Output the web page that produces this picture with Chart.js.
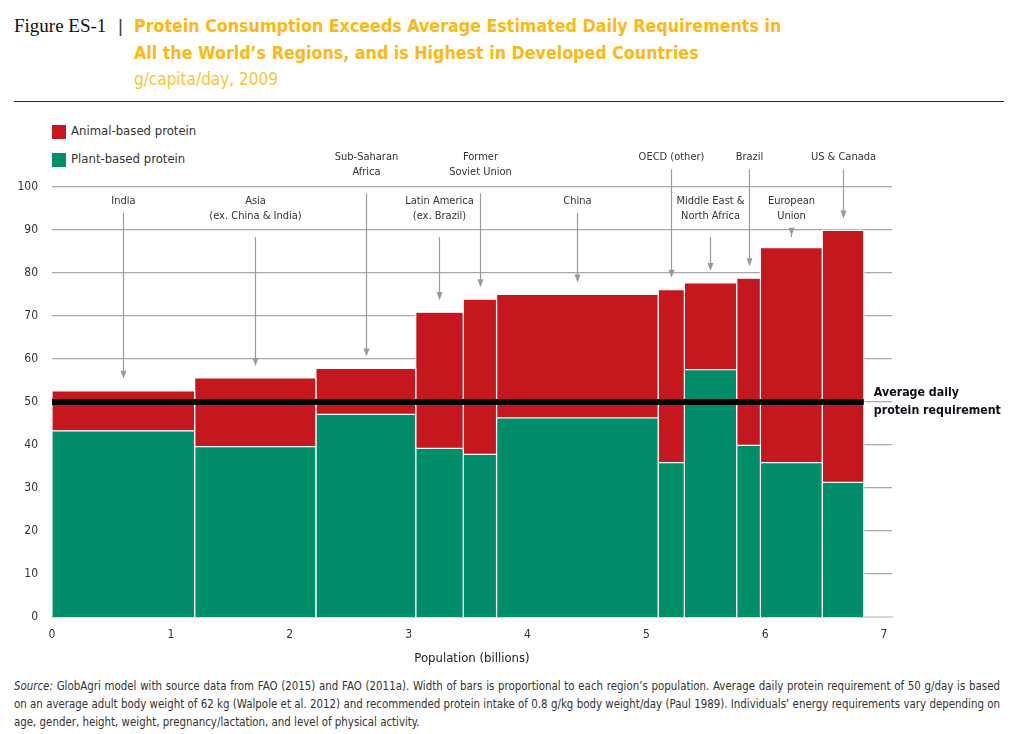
<!DOCTYPE html>
<html>
<head>
<meta charset="utf-8">
<script src="https://cdn.jsdelivr.net/npm/chart.js@4.4.1/dist/chart.umd.min.js"></script>
<style>
  body { margin: 0; background: #fff; width: 1011px; height: 734px; position: relative; overflow: hidden;
         font-family: "DejaVu Sans Condensed", "Liberation Sans Narrow", Roboto, sans-serif; color: #333; }
  .abs { position: absolute; white-space: nowrap; }
  #fig { left: 14px; top: 12px; font-family: "Liberation Serif", "DejaVu Serif", serif; font-size: 19px; line-height: 27px; color: #111; }
  #bar { left: 118px; top: 12px; font-family: "Liberation Sans", sans-serif; font-size: 19px; line-height: 27px; color: #444; }
  #title { left: 134px; top: 13px; font-size: 17.7px; line-height: 27px; font-weight: bold; color: #FDB913; }
  #sub { left: 134px; top: 68px; font-size: 17px; line-height: 22px; color: #FDC436; }
  #rule { left: 14px; top: 101px; width: 990px; height: 1px; background: #222; }
  .sw { position: absolute; left: 52px; width: 14px; height: 14px; }
  .lg { left: 71px; font-size: 13px; line-height: 18px; color: #333; }
  #wrap { position: absolute; left: 0; top: 110px; width: 1011px; height: 560px; }
  #source { position: absolute; left: 14px; top: 677px; width: 986px; font-size: 11.4px; line-height: 18px;
            text-align: justify; color: #333; }
</style>
</head>
<body>
<div class="abs" id="fig">Figure ES-1</div>
<div class="abs" id="bar">|</div>
<div class="abs" id="title">Protein Consumption Exceeds Average Estimated Daily Requirements in<br>All the World’s Regions, and is Highest in Developed Countries</div>
<div class="abs" id="sub">g/capita/day, 2009</div>
<div class="abs" id="rule"></div>

<div class="sw" style="top:125px;background:#C5171E"></div>
<div class="abs lg" style="top:122px">Animal-based protein</div>
<div class="sw" style="top:153px;background:#008D6A"></div>
<div class="abs lg" style="top:150px">Plant-based protein</div>

<div id="wrap"><canvas id="myChart"></canvas></div>

<div id="source"><i>Source:</i> GlobAgri model with source data from FAO (2015) and FAO (2011a). Width of bars is proportional to each region’s population. Average daily protein requirement of 50 g/day is based on an average adult body weight of 62 kg (Walpole et al. 2012) and recommended protein intake of 0.8 g/kg body weight/day (Paul 1989). Individuals’ energy requirements vary depending on age, gender, height, weight, pregnancy/lactation, and level of physical activity.</div>

<script>
// regions, left to right
const regions = ['India', 'Asia\n(ex. China & India)', 'Sub-Saharan\nAfrica', 'Latin America\n(ex. Brazil)',
   'Former\nSoviet Union', 'China', 'OECD (other)', 'Middle East &\nNorth Africa', 'Brazil',
   'European\nUnion', 'US & Canada'];
// population, billions (bar widths)
const population = [1.20, 1.02, 0.84, 0.40, 0.28, 1.36, 0.22, 0.44, 0.20, 0.52, 0.35];
// g/capita/day
const plantProtein = [43.3, 39.6, 47.1, 39.2, 37.8, 46.3, 35.9, 57.5, 39.9, 35.9, 31.3];
const animalProtein = [9.3, 16.0, 10.7, 31.7, 36.1, 28.7, 40.2, 20.2, 38.9, 50.0, 58.6];
const requirement = 50;
const xTicks = [0, 1, 2, 3, 4, 5, 6, 7];
const yTicks = [0, 10, 20, 30, 40, 50, 60, 70, 80, 90, 100];

// label tier above the bars: 0 = upper row, 1 = lower row
const labelTier = [1, 1, 0, 1, 0, 1, 0, 1, 0, 1, 0];

const RED = '#C5171E';
const GREEN = '#008D6A';
const FONT = '"DejaVu Sans Condensed", "Liberation Sans Narrow", Roboto, sans-serif';

Chart.defaults.font.family = FONT;
Chart.defaults.color = '#333';

const totalPop = population.reduce((a, b) => a + b, 0);

// each bar part is a line outline filled down to its base value
const datasets = [{
   data: [{x: 0, y: requirement}, {x: totalPop, y: requirement}],
   borderColor: '#000',
   borderWidth: 6,
   fill: false
}];
let start = 0;
population.forEach((w, i) => {
   const x0 = start, x1 = start + w;
   const p = plantProtein[i], t = plantProtein[i] + animalProtein[i];
   datasets.push({
      data: [{x: x0, y: 0}, {x: x0, y: p}, {x: x1, y: p}, {x: x1, y: 0}],
      backgroundColor: GREEN,
      borderColor: '#fff',
      borderWidth: 1.2,
      fill: 'origin'
   });
   datasets.push({
      data: [{x: x0, y: p}, {x: x0, y: t}, {x: x1, y: t}, {x: x1, y: p}],
      backgroundColor: RED,
      borderColor: '#fff',
      borderWidth: 1.2,
      fill: {value: p}
   });
   start = x1;
});

const annotate = {
   id: 'annotate',
   afterDatasetsDraw(chart) {
      const {ctx, scales: {x, y}} = chart;
      ctx.save();
      ctx.textAlign = 'center';
      ctx.textBaseline = 'middle';
      let s = 0;
      regions.forEach((name, i) => {
         const cx = Math.round(x.getPixelForValue(s + population[i] / 2)) + 0.5;
         s += population[i];
         const lines = name.split('\n');
         const first = labelTier[i] === 0 ? 47.5 : 91;
         ctx.fillStyle = '#333';
         ctx.font = '11px ' + FONT;
         lines.forEach((ln, k) => ctx.fillText(ln, cx, first + k * 15));
         const yStart = first + (lines.length - 1) * 15 + (lines.length > 1 ? 21 : 12);
         const yEnd = y.getPixelForValue(plantProtein[i] + animalProtein[i]) - 12;
         ctx.strokeStyle = '#9a9a9a';
         ctx.lineWidth = 1.2;
         ctx.beginPath();
         ctx.moveTo(cx, yStart);
         ctx.lineTo(cx, yEnd - 6);
         ctx.stroke();
         ctx.fillStyle = '#9a9a9a';
         ctx.beginPath();
         ctx.moveTo(cx - 3, yEnd - 8);
         ctx.lineTo(cx + 3, yEnd - 8);
         ctx.lineTo(cx, yEnd);
         ctx.closePath();
         ctx.fill();
      });
      // requirement label
      ctx.textAlign = 'left';
      ctx.fillStyle = '#0d0d1a';
      ctx.font = 'bold 12.3px ' + FONT;
      const lx = x.getPixelForValue(totalPop) + 10;
      const ly = y.getPixelForValue(requirement);
      ctx.fillText('Average daily', lx, ly - 9);
      ctx.fillText('protein requirement', lx, ly + 9);
      ctx.restore();
   }
};

const chart = new Chart(document.getElementById('myChart'), {
   type: 'line',
   data: {datasets},
   options: {
      responsive: true,
      maintainAspectRatio: false,
      animation: false,
      layout: {padding: {top: 77, right: 119, left: 0, bottom: 0}},
      elements: {point: {radius: 0}, line: {tension: 0}},
      plugins: {legend: {display: false}, tooltip: {enabled: false}},
      scales: {
         x: {
            type: 'linear',
            min: 0,
            max: 7.067,
            afterBuildTicks: scale => { scale.ticks = xTicks.map(v => ({value: v})); },
            afterFit: scale => { scale.height = 53; },
            grid: {display: false},
            border: {display: true, color: '#d6d6d6', width: 2},
            ticks: {padding: 3, font: {size: 12}, color: '#333', maxRotation: 0},
            title: {display: true, text: 'Population (billions)', font: {size: 13}, color: '#222', padding: {top: 0, bottom: 4}}
         },
         y: {
            min: 0,
            max: 100,
            afterBuildTicks: scale => { scale.ticks = yTicks.map(v => ({value: v})); },
            afterFit: scale => { scale.width = 52; },
            grid: {
               drawTicks: false,
               color: c => c.tick && c.tick.value === 0 ? 'rgba(0,0,0,0)' : '#a8a8a8',
               lineWidth: 1.3
            },
            border: {display: false},
            ticks: {padding: 14, font: {size: 12}, color: '#333'}
         }
      }
   },
   plugins: [annotate]
});
</script>
</body>
</html>
